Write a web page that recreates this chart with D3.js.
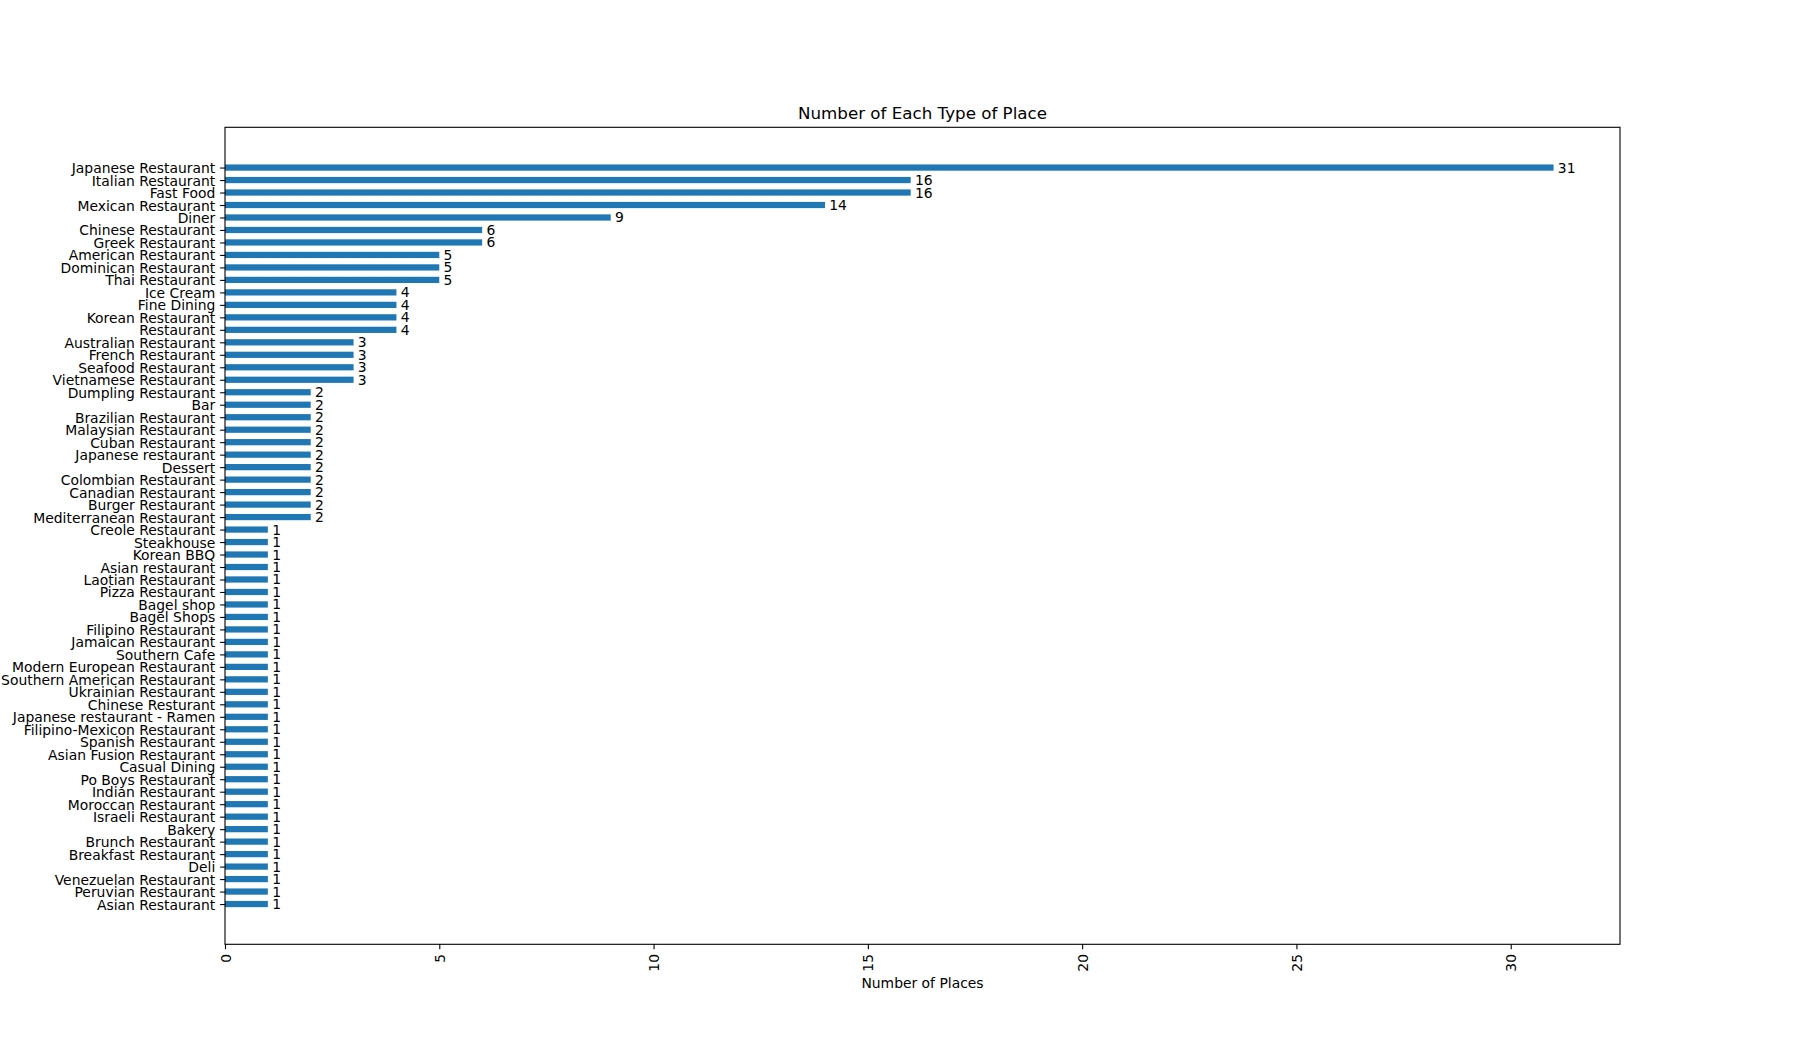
<!DOCTYPE html>
<html>
<head>
<meta charset="utf-8">
<script src="https://cdn.jsdelivr.net/npm/d3@7"></script>
<style>
    body { margin: 0; background: #fff; }
    svg text { font-family: "DejaVu Sans", sans-serif; fill: #000; }
</style>
</head>
<body>
<svg id="chart" width="1800" height="1061"></svg>
<script>
(function() {
    'use strict';

    // categories, top to bottom as drawn
    var placeTypes = [
        "Japanese Restaurant", "Italian Restaurant", "Fast Food", "Mexican Restaurant",
        "Diner", "Chinese Restaurant", "Greek Restaurant", "American Restaurant",
        "Dominican Restaurant", "Thai Restaurant", "Ice Cream", "Fine Dining",
        "Korean Restaurant", "Restaurant", "Australian Restaurant", "French Restaurant",
        "Seafood Restaurant", "Vietnamese Restaurant", "Dumpling Restaurant", "Bar",
        "Brazilian Restaurant", "Malaysian Restaurant", "Cuban Restaurant", "Japanese restaurant",
        "Dessert", "Colombian Restaurant", "Canadian Restaurant", "Burger Restaurant",
        "Mediterranean Restaurant", "Creole Restaurant", "Steakhouse", "Korean BBQ",
        "Asian restaurant", "Laotian Restaurant", "Pizza Restaurant", "Bagel shop",
        "Bagel Shops", "Filipino Restaurant", "Jamaican Restaurant", "Southern Cafe",
        "Modern European Restaurant", "Southern American Restaurant", "Ukrainian Restaurant", "Chinese Resturant",
        "Japanese restaurant - Ramen", "Filipino-Mexicon Restaurant", "Spanish Restaurant", "Asian Fusion Restaurant",
        "Casual Dining", "Po Boys Restaurant", "Indian Restaurant", "Moroccan Restaurant",
        "Israeli Restaurant", "Bakery", "Brunch Restaurant", "Breakfast Restaurant",
        "Deli", "Venezuelan Restaurant", "Peruvian Restaurant", "Asian Restaurant"
    ];

    var placeCounts = [
        31, 16, 16, 14,
        9, 6, 6, 5,
        5, 5, 4, 4,
        4, 4, 3, 3,
        3, 3, 2, 2,
        2, 2, 2, 2,
        2, 2, 2, 2,
        2, 1, 1, 1,
        1, 1, 1, 1,
        1, 1, 1, 1,
        1, 1, 1, 1,
        1, 1, 1, 1,
        1, 1, 1, 1,
        1, 1, 1, 1,
        1, 1, 1, 1
    ];

    var xTicks = [0, 5, 10, 15, 20, 25, 30];

    var width = 1800, height = 1061;
    var margin = { left: 225, right: 180, top: 127.3, bottom: 116.7 };
    var plotW = width - margin.left - margin.right;
    var plotH = height - margin.top - margin.bottom;
    var n = placeTypes.length;
    var barHeight = 0.5;

    var svg = d3.select('#chart');
    var g = svg.append('g')
        .attr('transform', 'translate(' + margin.left + ',' + margin.top + ')');

    var xMax = d3.max(placeCounts) * 1.05;
    var x = d3.scaleLinear().domain([0, xMax]).range([0, plotW]);

    // index 0 at top, matplotlib-style 5% margins around the bars
    var yLo = -barHeight / 2, yHi = (n - 1) + barHeight / 2;
    var yPad = (yHi - yLo) * 0.05;
    var y = d3.scaleLinear().domain([yLo - yPad, yHi + yPad]).range([0, plotH]);

    var rows = placeTypes.map(function(name, i) {
        return { name: name, value: placeCounts[i], idx: i };
    });

    g.selectAll('rect.bar')
        .data(rows)
        .enter().append('rect')
        .attr('class', 'bar')
        .attr('x', x(0))
        .attr('y', function(d) { return y(d.idx - barHeight / 2); })
        .attr('width', function(d) { return x(d.value) - x(0); })
        .attr('height', function(d) { return y(d.idx + barHeight / 2) - y(d.idx - barHeight / 2); })
        .attr('fill', '#1f77b4');

    g.selectAll('text.val')
        .data(rows)
        .enter().append('text')
        .attr('class', 'val')
        .attr('x', function(d) { return x(d.value + 0.1); })
        .attr('y', function(d) { return y(d.idx); })
        .attr('dy', '0.36em')
        .style('font-size', '13.9px')
        .text(function(d) { return d.value; });

    // y axis: category labels
    var yAxis = d3.axisLeft(y)
        .tickValues(d3.range(n))
        .tickFormat(function(i) { return placeTypes[i]; })
        .tickSize(4.86)
        .tickPadding(4.86);
    var yG = g.append('g').call(yAxis);
    yG.select('.domain').remove();
    yG.selectAll('line').attr('stroke', '#000').attr('stroke-width', 1.1);
    yG.selectAll('text')
        .style('font-size', '13.9px')
        .style('font-family', '"DejaVu Sans", sans-serif')
        .attr('fill', '#000')
        .attr('dy', '0.36em');

    // x axis with rotated labels
    var xAxis = d3.axisBottom(x)
        .tickValues(xTicks)
        .tickFormat(d3.format('d'))
        .tickSize(4.86)
        .tickPadding(0);
    var xG = g.append('g')
        .attr('transform', 'translate(0,' + plotH + ')')
        .call(xAxis);
    xG.select('.domain').remove();
    xG.selectAll('line').attr('stroke', '#000').attr('stroke-width', 1.1);
    xG.selectAll('text')
        .style('font-size', '13.9px')
        .style('font-family', '"DejaVu Sans", sans-serif')
        .attr('fill', '#000')
        .attr('text-anchor', 'end')
        .attr('dy', null)
        .attr('y', 0)
        .attr('x', 0)
        .attr('transform', 'translate(0,9.7) rotate(-90)')
        .attr('dominant-baseline', 'central');

    // frame
    g.append('rect')
        .attr('x', 0).attr('y', 0)
        .attr('width', plotW).attr('height', plotH)
        .attr('fill', 'none')
        .attr('stroke', '#000')
        .attr('stroke-width', 1.1);

    svg.append('text')
        .attr('x', margin.left + plotW / 2)
        .attr('y', margin.top - 8.6)
        .attr('text-anchor', 'middle')
        .style('font-size', '16.7px')
        .text('Number of Each Type of Place');

    svg.append('text')
        .attr('x', margin.left + plotW / 2)
        .attr('y', 988.3)
        .attr('text-anchor', 'middle')
        .style('font-size', '13.9px')
        .text('Number of Places');
})();
</script>
</body>
</html>
